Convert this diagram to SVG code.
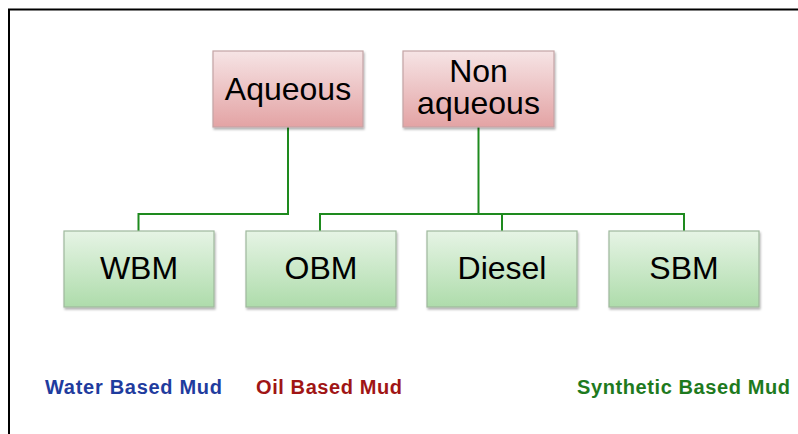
<svg xmlns="http://www.w3.org/2000/svg" width="798" height="434" viewBox="0 0 798 434">
<defs>
<linearGradient id="pink" x1="0" y1="0" x2="0" y2="1">
<stop offset="0" stop-color="#F6E4E5"/><stop offset="1" stop-color="#E3A3A4"/>
</linearGradient>
<linearGradient id="green" x1="0" y1="0" x2="0" y2="1">
<stop offset="0" stop-color="#E6F4E5"/><stop offset="1" stop-color="#AEDCAB"/>
</linearGradient>
<filter id="sh" x="-10%" y="-10%" width="125%" height="130%">
<feDropShadow dx="1" dy="2" stdDeviation="1.2" flood-color="#000" flood-opacity="0.3"/>
</filter>
</defs>
<style>
.pk{fill:url(#pink);stroke:#C4A4A5;stroke-width:1.2;filter:url(#sh)}
.gr{fill:url(#green);stroke:#9FB89D;stroke-width:1.2;filter:url(#sh)}
.t{font-family:"Liberation Sans",Arial,sans-serif;font-size:32px;fill:#000;text-anchor:middle}
.lab{font-family:"Liberation Sans",Arial,sans-serif;font-size:20px;font-weight:bold}
.c{fill:none;stroke:#1E8A1E;stroke-width:2}
</style>
<rect width="798" height="434" fill="#fff"/>
<path d="M9 434 V9.5 H798" fill="none" stroke="#000" stroke-width="2"/>
<g id="connectors">
<path class="c" d="M288 127 V214 H138.5 V231"/>
<path class="c" d="M478.5 127 V214"/>
<path class="c" d="M320 231 V214 H684 V231"/>
<path class="c" d="M502 214 V231"/>
</g>
<g id="aqueous">
<rect class="pk" x="213" y="51" width="150" height="76"/>
<text class="t" x="288" y="100">Aqueous</text>
</g>
<g id="nonaqueous">
<rect class="pk" x="403" y="51" width="151" height="76"/>
<text class="t" x="478.5" y="82">Non</text>
<text class="t" x="478.5" y="114">aqueous</text>
</g>
<g id="wbm">
<rect class="gr" x="64" y="231" width="150" height="76"/>
<text class="t" x="139" y="279">WBM</text>
</g>
<g id="obm">
<rect class="gr" x="246" y="231" width="150" height="76"/>
<text class="t" x="321" y="279">OBM</text>
</g>
<g id="diesel">
<rect class="gr" x="427" y="231" width="150" height="76"/>
<text class="t" x="502" y="279">Diesel</text>
</g>
<g id="sbm">
<rect class="gr" x="609" y="231" width="150" height="76"/>
<text class="t" x="684" y="279">SBM</text>
</g>
<g id="labels">
<text class="lab" x="45" y="394" fill="#1F3C9E" textLength="177" lengthAdjust="spacing">Water Based Mud</text>
<text class="lab" x="256" y="394" fill="#A01515" textLength="146" lengthAdjust="spacing">Oil Based Mud</text>
<text class="lab" x="577" y="394" fill="#1E7A1E" textLength="213" lengthAdjust="spacing">Synthetic Based Mud</text>
</g>
</svg>
